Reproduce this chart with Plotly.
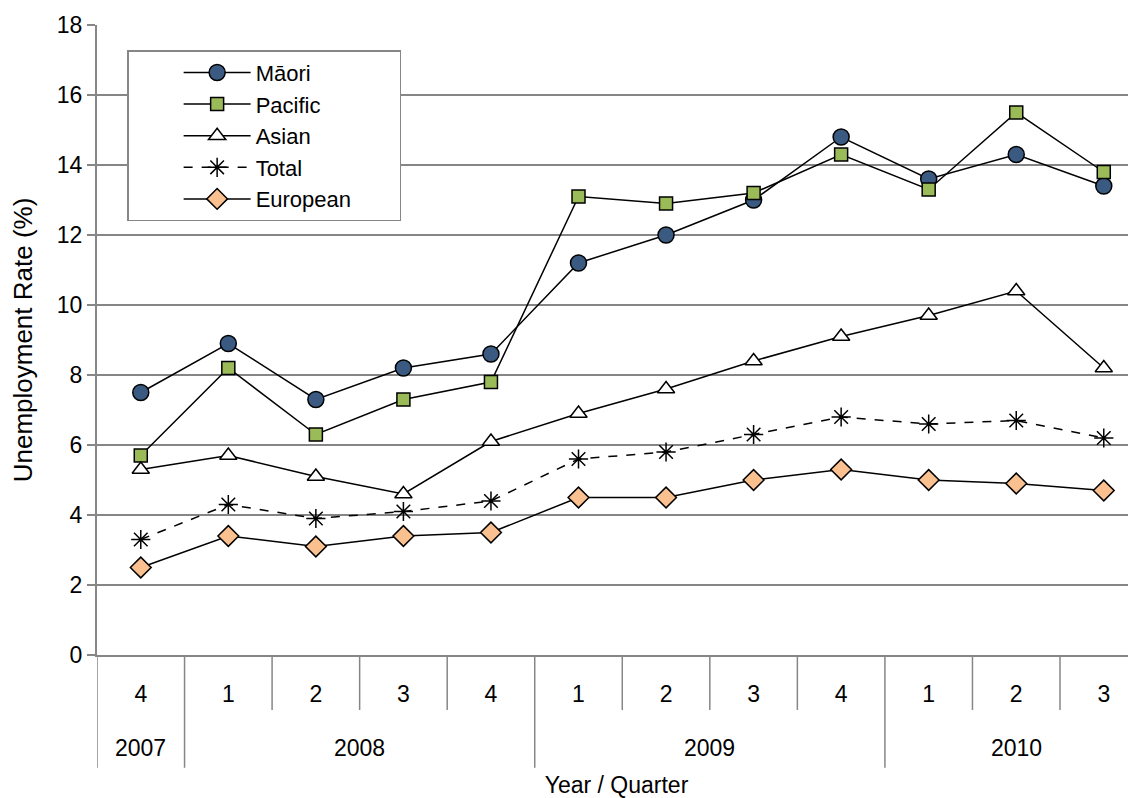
import plotly.graph_objects as go

years = ["2007", "2008", "2008", "2008", "2008", "2009", "2009", "2009", "2009", "2010", "2010", "2010"]
quarters = ["4", "1", "2", "3", "4", "1", "2", "3", "4", "1", "2", "3"]

maori = [7.5, 8.9, 7.3, 8.2, 8.6, 11.2, 12.0, 13.0, 14.8, 13.6, 14.3, 13.4]
pacific = [5.7, 8.2, 6.3, 7.3, 7.8, 13.1, 12.9, 13.2, 14.3, 13.3, 15.5, 13.8]
asian = [5.3, 5.7, 5.1, 4.6, 6.1, 6.9, 7.6, 8.4, 9.1, 9.7, 10.4, 8.2]
total = [3.3, 4.3, 3.9, 4.1, 4.4, 5.6, 5.8, 6.3, 6.8, 6.6, 6.7, 6.2]
european = [2.5, 3.4, 3.1, 3.4, 3.5, 4.5, 4.5, 5.0, 5.3, 5.0, 4.9, 4.7]

cats = [f"{y} Q{q}" for y, q in zip(years, quarters)]

GRAY = "#868686"
FONT = "Liberation Sans, Arial, sans-serif"
PAD = "\u00a0" * 7  # widens the legend box on the right, like the original

series = [
    ("Māori", maori, "circle", 16, "#3B5A82", "solid"),
    ("Pacific", pacific, "square", 13, "#9BBB59", "solid"),
    ("Asian", asian, "triangle-up", 15, "white", "solid"),
    ("Total", total, "asterisk-open", 16, "black", "dash"),
    ("European" + PAD, european, "diamond", 16, "#FAC090", "solid"),
]

fig = go.Figure()
for name, vals, sym, size, color, dash in series:
    fig.add_trace(go.Scatter(
        x=cats, y=vals, name=name, mode="lines+markers",
        line=dict(color="black", width=1.5, dash=dash),
        marker=dict(symbol=sym, size=size, color=color,
                    line=dict(color="black", width=1.5)),
    ))

# separators under the category axis: short ones between quarters, long ones between years
for i in range(len(cats)):
    new_year = i == 0 or years[i] != years[i - 1]
    fig.add_shape(type="line", xref="x", yref="paper",
                  x0=i - 0.5, x1=i - 0.5, y0=0, y1=-0.179 if new_year else -0.0873,
                  line=dict(color=GRAY, width=1.5))

# year labels centred under their quarters
for yr in dict.fromkeys(years):
    idx = [i for i, y in enumerate(years) if y == yr]
    fig.add_annotation(x=sum(idx) / len(idx), y=-0.1476, xref="x", yref="paper",
                       text=yr, showarrow=False, yanchor="middle",
                       font=dict(size=23, family=FONT, color="black"))

# page body adds an 8px offset, so the figure is drawn 8px smaller
fig.update_layout(
    width=1128, height=790,
    margin=dict(l=89, r=0, t=17, b=143),
    paper_bgcolor="white", plot_bgcolor="white",
    font=dict(family=FONT, size=23, color="black"),
    showlegend=True,
    legend=dict(
        x=0.029, y=0.96, xanchor="left", yanchor="top",
        bordercolor=GRAY, borderwidth=1.5, bgcolor="white",
        font=dict(size=22), itemwidth=67, tracegroupgap=0,
        indentation=50,
    ),
)

fig.update_yaxes(
    range=[0, 18], dtick=2, showgrid=True, gridcolor=GRAY, gridwidth=2,
    showline=True, linecolor=GRAY, linewidth=2,
    ticks="outside", ticklen=8, tickcolor=GRAY, tickwidth=2,
    zeroline=False, automargin=False,
    title=dict(text="Unemployment Rate (%)", font=dict(size=26), standoff=18),
)
fig.update_xaxes(
    type="category", range=[-0.5, 11.368],
    tickvals=cats, ticktext=quarters,
    showline=True, linecolor=GRAY, linewidth=2,
    showgrid=False, automargin=False,
    ticks="outside", ticklen=17, tickcolor="rgba(0,0,0,0)",
    title=dict(text="Year / Quarter", font=dict(size=23), standoff=76),
)

fig.write_html("out.html")
